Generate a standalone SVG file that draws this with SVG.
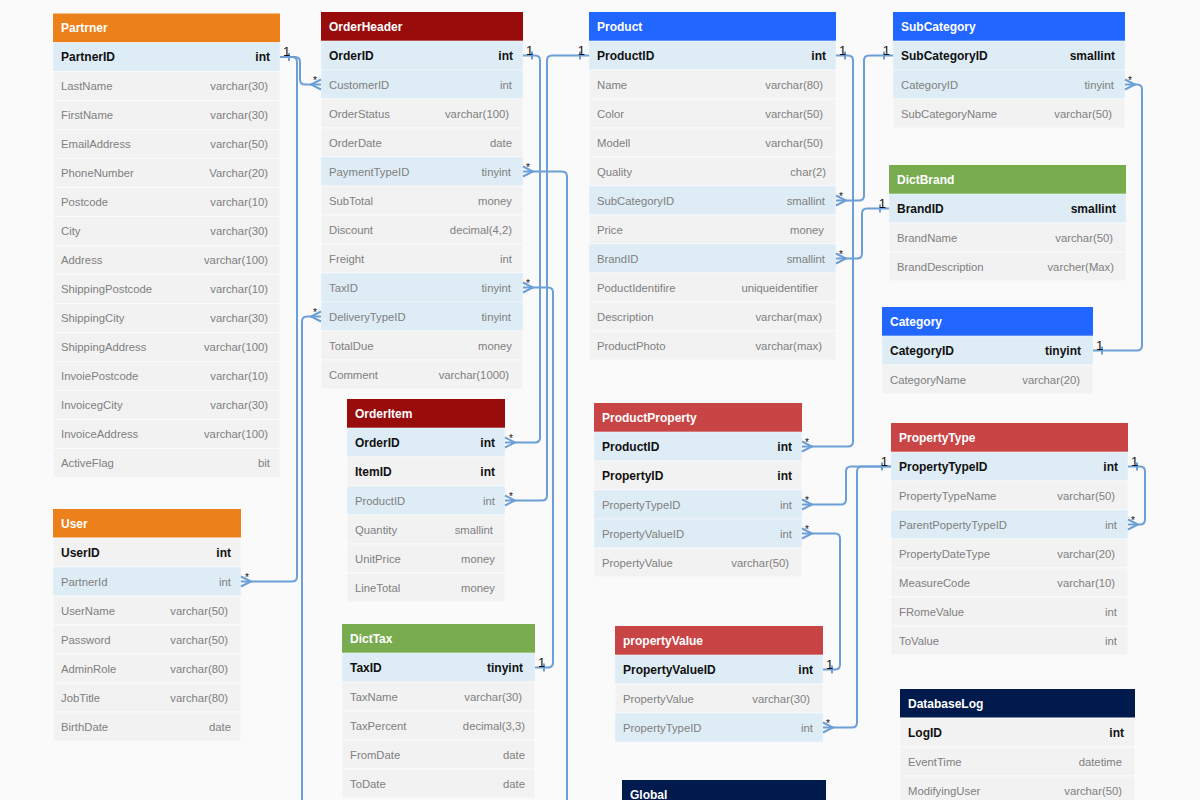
<svg xmlns="http://www.w3.org/2000/svg" width="1200" height="800" viewBox="0 0 1200 800">
<style>
.bg{fill:#fafafa}
.r{fill:#f2f2f2;stroke:#fafafa;stroke-width:1}
.h{fill:#deecf5;stroke:#f6f9fb;stroke-width:0.6}
.t{font-family:"Liberation Sans",Arial,sans-serif;font-size:11.3px;fill:#808080}
.b{font-weight:bold;font-size:12px;fill:#111}
.e{text-anchor:end}
.ht{font-family:"Liberation Sans",Arial,sans-serif;font-size:12px;font-weight:bold;fill:#fff}
.or{fill:#ec801b}
.dr{fill:#990c0c}
.bl{fill:#2166ff}
.gr{fill:#78ac4f}
.rd{fill:#c94444}
.nv{fill:#001a4d}
.c{fill:none;stroke:#6b9fd6;stroke-width:2}
.lab{font-family:"Liberation Sans",Arial,sans-serif;font-size:13px;fill:#111}
.st{font-family:"Liberation Sans",Arial,sans-serif;font-size:10px;fill:#111}
</style>
<rect class="bg" x="0" y="0" width="1200" height="800"/>

<g id="Partner">
<rect class="or" x="53" y="13.5" width="227" height="29"/>
<text class="ht" x="61" y="32">Partrner</text>
<rect class="h" x="53" y="42.5" width="227" height="29"/>
<rect class="r" x="53" y="71.5" width="227" height="29"/>
<rect class="r" x="53" y="100.5" width="227" height="29"/>
<rect class="r" x="53" y="129.5" width="227" height="29"/>
<rect class="r" x="53" y="158.5" width="227" height="29"/>
<rect class="r" x="53" y="187.5" width="227" height="29"/>
<rect class="r" x="53" y="216.5" width="227" height="29"/>
<rect class="r" x="53" y="245.5" width="227" height="29"/>
<rect class="r" x="53" y="274.5" width="227" height="29"/>
<rect class="r" x="53" y="303.5" width="227" height="29"/>
<rect class="r" x="53" y="332.5" width="227" height="29"/>
<rect class="r" x="53" y="361.5" width="227" height="29"/>
<rect class="r" x="53" y="390.5" width="227" height="29"/>
<rect class="r" x="53" y="419.5" width="227" height="29"/>
<rect class="r" x="53" y="448.5" width="227" height="29"/>
<text class="t b" x="61" y="61">PartnerID</text><text class="t b e" x="270" y="61">int</text>
<text class="t" x="61" y="90">LastName</text><text class="t e" x="268" y="90">varchar(30)</text>
<text class="t" x="61" y="119">FirstName</text><text class="t e" x="268" y="119">varchar(30)</text>
<text class="t" x="61" y="148">EmailAddress</text><text class="t e" x="268" y="148">varchar(50)</text>
<text class="t" x="61" y="177">PhoneNumber</text><text class="t e" x="268" y="177">Varchar(20)</text>
<text class="t" x="61" y="206">Postcode</text><text class="t e" x="268" y="206">varchar(10)</text>
<text class="t" x="61" y="235">City</text><text class="t e" x="268" y="235">varchar(30)</text>
<text class="t" x="61" y="264">Address</text><text class="t e" x="268" y="264">varchar(100)</text>
<text class="t" x="61" y="293">ShippingPostcode</text><text class="t e" x="268" y="293">varchar(10)</text>
<text class="t" x="61" y="322">ShippingCity</text><text class="t e" x="268" y="322">varchar(30)</text>
<text class="t" x="61" y="351">ShippingAddress</text><text class="t e" x="268" y="351">varchar(100)</text>
<text class="t" x="61" y="380">InvoiePostcode</text><text class="t e" x="268" y="380">varchar(10)</text>
<text class="t" x="61" y="409">InvoicegCity</text><text class="t e" x="268" y="409">varchar(30)</text>
<text class="t" x="61" y="438">InvoiceAddress</text><text class="t e" x="268" y="438">varchar(100)</text>
<text class="t" x="61" y="467">ActiveFlag</text><text class="t e" x="270" y="467">bit</text>
</g>

<g id="OrderHeader">
<rect class="dr" x="321" y="12" width="202" height="29"/>
<text class="ht" x="329" y="30.5">OrderHeader</text>
<rect class="h" x="321" y="41" width="202" height="29"/>
<rect class="h" x="321" y="70" width="202" height="29"/>
<rect class="r" x="321" y="99" width="202" height="29"/>
<rect class="r" x="321" y="128" width="202" height="29"/>
<rect class="h" x="321" y="157" width="202" height="29"/>
<rect class="r" x="321" y="186" width="202" height="29"/>
<rect class="r" x="321" y="215" width="202" height="29"/>
<rect class="r" x="321" y="244" width="202" height="29"/>
<rect class="h" x="321" y="273" width="202" height="29"/>
<rect class="h" x="321" y="302" width="202" height="29"/>
<rect class="r" x="321" y="331" width="202" height="29"/>
<rect class="r" x="321" y="360" width="202" height="29"/>
<text class="t b" x="329" y="59.5">OrderID</text><text class="t b e" x="513" y="59.5">int</text>
<text class="t" x="329" y="88.5">CustomerID</text><text class="t e" x="512" y="88.5">int</text>
<text class="t" x="329" y="117.5">OrderStatus</text><text class="t e" x="509" y="117.5">varchar(100)</text>
<text class="t" x="329" y="146.5">OrderDate</text><text class="t e" x="512" y="146.5">date</text>
<text class="t" x="329" y="175.5">PaymentTypeID</text><text class="t e" x="511" y="175.5">tinyint</text>
<text class="t" x="329" y="204.5">SubTotal</text><text class="t e" x="512" y="204.5">money</text>
<text class="t" x="329" y="233.5">Discount</text><text class="t e" x="512" y="233.5">decimal(4,2)</text>
<text class="t" x="329" y="262.5">Freight</text><text class="t e" x="512" y="262.5">int</text>
<text class="t" x="329" y="291.5">TaxID</text><text class="t e" x="511" y="291.5">tinyint</text>
<text class="t" x="329" y="320.5">DeliveryTypeID</text><text class="t e" x="511" y="320.5">tinyint</text>
<text class="t" x="329" y="349.5">TotalDue</text><text class="t e" x="512" y="349.5">money</text>
<text class="t" x="329" y="378.5">Comment</text><text class="t e" x="509" y="378.5">varchar(1000)</text>
</g>

<g id="Product">
<rect class="bl" x="589" y="12" width="247" height="29"/>
<text class="ht" x="597" y="30.5">Product</text>
<rect class="h" x="589" y="41" width="247" height="29"/>
<rect class="r" x="589" y="70" width="247" height="29"/>
<rect class="r" x="589" y="99" width="247" height="29"/>
<rect class="r" x="589" y="128" width="247" height="29"/>
<rect class="r" x="589" y="157" width="247" height="29"/>
<rect class="h" x="589" y="186" width="247" height="29"/>
<rect class="r" x="589" y="215" width="247" height="29"/>
<rect class="h" x="589" y="244" width="247" height="29"/>
<rect class="r" x="589" y="273" width="247" height="29"/>
<rect class="r" x="589" y="302" width="247" height="29"/>
<rect class="r" x="589" y="331" width="247" height="29"/>
<text class="t b" x="597" y="59.5">ProductID</text><text class="t b e" x="826" y="59.5">int</text>
<text class="t" x="597" y="88.5">Name</text><text class="t e" x="823" y="88.5">varchar(80)</text>
<text class="t" x="597" y="117.5">Color</text><text class="t e" x="823" y="117.5">varchar(50)</text>
<text class="t" x="597" y="146.5">Modell</text><text class="t e" x="823" y="146.5">varchar(50)</text>
<text class="t" x="597" y="175.5">Quality</text><text class="t e" x="826" y="175.5">char(2)</text>
<text class="t" x="597" y="204.5">SubCategoryID</text><text class="t e" x="825" y="204.5">smallint</text>
<text class="t" x="597" y="233.5">Price</text><text class="t e" x="824" y="233.5">money</text>
<text class="t" x="597" y="262.5">BrandID</text><text class="t e" x="825" y="262.5">smallint</text>
<text class="t" x="597" y="291.5">PoductIdentifire</text><text class="t e" x="818" y="291.5">uniqueidentifier</text>
<text class="t" x="597" y="320.5">Description</text><text class="t e" x="822" y="320.5">varchar(max)</text>
<text class="t" x="597" y="349.5">ProductPhoto</text><text class="t e" x="822" y="349.5">varchar(max)</text>
</g>

<g id="SubCategory">
<rect class="bl" x="893" y="12" width="232" height="29"/>
<text class="ht" x="901" y="30.5">SubCategory</text>
<rect class="h" x="893" y="41" width="232" height="29"/>
<rect class="h" x="893" y="70" width="232" height="29"/>
<rect class="r" x="893" y="99" width="232" height="29"/>
<text class="t b" x="901" y="59.5">SubCategoryID</text><text class="t b e" x="1115" y="59.5">smallint</text>
<text class="t" x="901" y="88.5">CategoryID</text><text class="t e" x="1114" y="88.5">tinyint</text>
<text class="t" x="901" y="117.5">SubCategoryName</text><text class="t e" x="1112" y="117.5">varchar(50)</text>
</g>

<g id="DictBrand">
<rect class="gr" x="889" y="165" width="237" height="29"/>
<text class="ht" x="897" y="183.5">DictBrand</text>
<rect class="h" x="889" y="194" width="237" height="29"/>
<rect class="r" x="889" y="223" width="237" height="29"/>
<rect class="r" x="889" y="252" width="237" height="29"/>
<text class="t b" x="897" y="212.5">BrandID</text><text class="t b e" x="1116" y="212.5">smallint</text>
<text class="t" x="897" y="241.5">BrandName</text><text class="t e" x="1113" y="241.5">varchar(50)</text>
<text class="t" x="897" y="270.5">BrandDescription</text><text class="t e" x="1114" y="270.5">varcher(Max)</text>
</g>

<g id="Category">
<rect class="bl" x="882" y="307" width="211" height="29"/>
<text class="ht" x="890" y="325.5">Category</text>
<rect class="h" x="882" y="336" width="211" height="29"/>
<rect class="r" x="882" y="365" width="211" height="29"/>
<text class="t b" x="890" y="354.5">CategoryID</text><text class="t b e" x="1081" y="354.5">tinyint</text>
<text class="t" x="890" y="383.5">CategoryName</text><text class="t e" x="1080" y="383.5">varchar(20)</text>
</g>

<g id="OrderItem">
<rect class="dr" x="347" y="399" width="158" height="29"/>
<text class="ht" x="355" y="417.5">OrderItem</text>
<rect class="h" x="347" y="428" width="158" height="29"/>
<rect class="r" x="347" y="457" width="158" height="29"/>
<rect class="h" x="347" y="486" width="158" height="29"/>
<rect class="r" x="347" y="515" width="158" height="29"/>
<rect class="r" x="347" y="544" width="158" height="29"/>
<rect class="r" x="347" y="573" width="158" height="29"/>
<text class="t b" x="355" y="446.5">OrderID</text><text class="t b e" x="495" y="446.5">int</text>
<text class="t b" x="355" y="475.5">ItemID</text><text class="t b e" x="495" y="475.5">int</text>
<text class="t" x="355" y="504.5">ProductID</text><text class="t e" x="495" y="504.5">int</text>
<text class="t" x="355" y="533.5">Quantity</text><text class="t e" x="493" y="533.5">smallint</text>
<text class="t" x="355" y="562.5">UnitPrice</text><text class="t e" x="495" y="562.5">money</text>
<text class="t" x="355" y="591.5">LineTotal</text><text class="t e" x="495" y="591.5">money</text>
</g>

<g id="DictTax">
<rect class="gr" x="342" y="624" width="193" height="29"/>
<text class="ht" x="350" y="642.5">DictTax</text>
<rect class="h" x="342" y="653" width="193" height="29"/>
<rect class="r" x="342" y="682" width="193" height="29"/>
<rect class="r" x="342" y="711" width="193" height="29"/>
<rect class="r" x="342" y="740" width="193" height="29"/>
<rect class="r" x="342" y="769" width="193" height="29"/>
<text class="t b" x="350" y="671.5">TaxID</text><text class="t b e" x="523" y="671.5">tinyint</text>
<text class="t" x="350" y="700.5">TaxName</text><text class="t e" x="522" y="700.5">varchar(30)</text>
<text class="t" x="350" y="729.5">TaxPercent</text><text class="t e" x="525" y="729.5">decimal(3,3)</text>
<text class="t" x="350" y="758.5">FromDate</text><text class="t e" x="525" y="758.5">date</text>
<text class="t" x="350" y="787.5">ToDate</text><text class="t e" x="525" y="787.5">date</text>
</g>

<g id="User">
<rect class="or" x="53" y="509" width="188" height="29"/>
<text class="ht" x="61" y="527.5">User</text>
<rect class="r" x="53" y="538" width="188" height="29"/>
<rect class="h" x="53" y="567" width="188" height="29"/>
<rect class="r" x="53" y="596" width="188" height="29"/>
<rect class="r" x="53" y="625" width="188" height="29"/>
<rect class="r" x="53" y="654" width="188" height="29"/>
<rect class="r" x="53" y="683" width="188" height="29"/>
<rect class="r" x="53" y="712" width="188" height="29"/>
<text class="t b" x="61" y="556.5">UserID</text><text class="t b e" x="231" y="556.5">int</text>
<text class="t" x="61" y="585.5">PartnerId</text><text class="t e" x="231" y="585.5">int</text>
<text class="t" x="61" y="614.5">UserName</text><text class="t e" x="228" y="614.5">varchar(50)</text>
<text class="t" x="61" y="643.5">Password</text><text class="t e" x="228" y="643.5">varchar(50)</text>
<text class="t" x="61" y="672.5">AdminRole</text><text class="t e" x="228" y="672.5">varchar(80)</text>
<text class="t" x="61" y="701.5">JobTitle</text><text class="t e" x="228" y="701.5">varchar(80)</text>
<text class="t" x="61" y="730.5">BirthDate</text><text class="t e" x="231" y="730.5">date</text>
</g>

<g id="ProductProperty">
<rect class="rd" x="594" y="403" width="208" height="29"/>
<text class="ht" x="602" y="421.5">ProductProperty</text>
<rect class="h" x="594" y="432" width="208" height="29"/>
<rect class="r" x="594" y="461" width="208" height="29"/>
<rect class="h" x="594" y="490" width="208" height="29"/>
<rect class="h" x="594" y="519" width="208" height="29"/>
<rect class="r" x="594" y="548" width="208" height="29"/>
<text class="t b" x="602" y="450.5">ProductID</text><text class="t b e" x="792" y="450.5">int</text>
<text class="t b" x="602" y="479.5">PropertyID</text><text class="t b e" x="792" y="479.5">int</text>
<text class="t" x="602" y="508.5">PropertyTypeID</text><text class="t e" x="792" y="508.5">int</text>
<text class="t" x="602" y="537.5">PropertyValueID</text><text class="t e" x="792" y="537.5">int</text>
<text class="t" x="602" y="566.5">PropertyValue</text><text class="t e" x="789" y="566.5">varchar(50)</text>
</g>

<g id="propertyValue">
<rect class="rd" x="615" y="626" width="208" height="29"/>
<text class="ht" x="623" y="644.5">propertyValue</text>
<rect class="h" x="615" y="655" width="208" height="29"/>
<rect class="r" x="615" y="684" width="208" height="29"/>
<rect class="h" x="615" y="713" width="208" height="29"/>
<text class="t b" x="623" y="673.5">PropertyValueID</text><text class="t b e" x="813" y="673.5">int</text>
<text class="t" x="623" y="702.5">PropertyValue</text><text class="t e" x="810" y="702.5">varchar(30)</text>
<text class="t" x="623" y="731.5">PropertyTypeID</text><text class="t e" x="813" y="731.5">int</text>
</g>

<g id="PropertyType">
<rect class="rd" x="891" y="423" width="237" height="29"/>
<text class="ht" x="899" y="441.5">PropertyType</text>
<rect class="h" x="891" y="452" width="237" height="29"/>
<rect class="r" x="891" y="481" width="237" height="29"/>
<rect class="h" x="891" y="510" width="237" height="29"/>
<rect class="r" x="891" y="539" width="237" height="29"/>
<rect class="r" x="891" y="568" width="237" height="29"/>
<rect class="r" x="891" y="597" width="237" height="29"/>
<rect class="r" x="891" y="626" width="237" height="29"/>
<text class="t b" x="899" y="470.5">PropertyTypeID</text><text class="t b e" x="1118" y="470.5">int</text>
<text class="t" x="899" y="499.5">PropertyTypeName</text><text class="t e" x="1115" y="499.5">varchar(50)</text>
<text class="t" x="899" y="528.5">ParentPopertyTypeID</text><text class="t e" x="1117" y="528.5">int</text>
<text class="t" x="899" y="557.5">PropertyDateType</text><text class="t e" x="1115" y="557.5">varchar(20)</text>
<text class="t" x="899" y="586.5">MeasureCode</text><text class="t e" x="1115" y="586.5">varchar(10)</text>
<text class="t" x="899" y="615.5">FRomeValue</text><text class="t e" x="1117" y="615.5">int</text>
<text class="t" x="899" y="644.5">ToValue</text><text class="t e" x="1117" y="644.5">int</text>
</g>

<g id="DatabaseLog">
<rect class="nv" x="900" y="689" width="235" height="29"/>
<text class="ht" x="908" y="707.5">DatabaseLog</text>
<rect class="r" x="900" y="718" width="235" height="29"/>
<rect class="r" x="900" y="747" width="235" height="29"/>
<rect class="r" x="900" y="776" width="235" height="29"/>
<text class="t b" x="908" y="736.5">LogID</text><text class="t b e" x="1124" y="736.5">int</text>
<text class="t" x="908" y="765.5">EventTime</text><text class="t e" x="1122" y="765.5">datetime</text>
<text class="t" x="908" y="794.5">ModifyingUser</text><text class="t e" x="1122" y="794.5">varchar(50)</text>
</g>

<g id="Global">
<rect class="nv" x="622" y="780" width="204" height="29"/>
<text class="ht" x="630" y="798.5">Global</text>
</g>

<g id="connectors">
<path class="c" d="M280,57 H295 Q300,57 300,62 V79.5 Q300,84.5 305,84.5 H321"/>
<path class="c" d="M280,57 H292 Q297,57 297,62 V576.5 Q297,581.5 292,581.5 H241"/>
<path class="c" d="M321,316.5 H307 Q302,316.5 302,321.5 V800"/>
<path class="c" d="M523,55.5 H535 Q540,55.5 540,60.5 V437.5 Q540,442.5 535,442.5 H505"/>
<path class="c" d="M589,55.5 H552 Q547,55.5 547,60.5 V495.5 Q547,500.5 542,500.5 H505"/>
<path class="c" d="M523,171.5 H562 Q567,171.5 567,176.5 V800"/>
<path class="c" d="M523,287.5 H548 Q553,287.5 553,292.5 V662.5 Q553,667.5 548,667.5 H535"/>
<path class="c" d="M836,55.5 H848 Q853,55.5 853,60.5 V441.5 Q853,446.5 848,446.5 H802"/>
<path class="c" d="M836,200.5 H859 Q864,200.5 864,195.5 V60.5 Q864,55.5 869,55.5 H893"/>
<path class="c" d="M836,258.5 H857 Q862,258.5 862,253.5 V213.5 Q862,208.5 867,208.5 H889"/>
<path class="c" d="M1125,84.5 H1137 Q1142,84.5 1142,89.5 V345.5 Q1142,350.5 1137,350.5 H1093"/>
<path class="c" d="M802,504.5 H841 Q846,504.5 846,499.5 V471.5 Q846,466.5 851,466.5 H891"/>
<path class="c" d="M823,727.5 H852 Q857,727.5 857,722.5 V471.5 Q857,466.5 862,466.5 H891"/>
<path class="c" d="M802,533.5 H835 Q840,533.5 840,538.5 V664.5 Q840,669.5 835,669.5 H823"/>
<path class="c" d="M1128,466.5 H1140 Q1145,466.5 1145,471.5 V519.5 Q1145,524.5 1140,524.5 H1128"/>
<!-- crow's feet -->
<path class="c" d="M321,79.5 L311,84.5 L321,89.5"/>
<path class="c" d="M241,576.5 L251,581.5 L241,586.5"/>
<path class="c" d="M321,311.5 L311,316.5 L321,321.5"/>
<path class="c" d="M505,437.5 L515,442.5 L505,447.5"/>
<path class="c" d="M505,495.5 L515,500.5 L505,505.5"/>
<path class="c" d="M523,166.5 L533,171.5 L523,176.5"/>
<path class="c" d="M523,282.5 L533,287.5 L523,292.5"/>
<path class="c" d="M802,441.5 L812,446.5 L802,451.5"/>
<path class="c" d="M836,195.5 L846,200.5 L836,205.5"/>
<path class="c" d="M836,253.5 L846,258.5 L836,263.5"/>
<path class="c" d="M1125,79.5 L1135,84.5 L1125,89.5"/>
<path class="c" d="M802,499.5 L812,504.5 L802,509.5"/>
<path class="c" d="M823,722.5 L833,727.5 L823,732.5"/>
<path class="c" d="M802,528.5 L812,533.5 L802,538.5"/>
<path class="c" d="M1128,519.5 L1138,524.5 L1128,529.5"/>
<!-- one ticks -->
<path class="c" d="M289,53 V61 M532,51.5 V59.5 M580,51.5 V59.5 M544,663.5 V671.5 M845,51.5 V59.5 M884,51.5 V59.5 M880,204.5 V212.5 M1102,346.5 V354.5 M882,462.5 V470.5 M832,665.5 V673.5 M1137,462.5 V470.5"/>
<!-- labels -->
<text class="lab" x="283" y="56">1</text>
<text class="lab" x="526" y="54.5">1</text>
<text class="lab" x="585" y="54.5" text-anchor="end">1</text>
<text class="lab" x="538" y="666.5">1</text>
<text class="lab" x="839" y="54.5">1</text>
<text class="lab" x="890" y="54.5" text-anchor="end">1</text>
<text class="lab" x="886" y="207.5" text-anchor="end">1</text>
<text class="lab" x="1096" y="349.5">1</text>
<text class="lab" x="888" y="465.5" text-anchor="end">1</text>
<text class="lab" x="826" y="668.5">1</text>
<text class="lab" x="1131" y="465.5">1</text>
<text class="st" x="317" y="83.5" text-anchor="end">*</text>
<text class="st" x="245" y="580.5">*</text>
<text class="st" x="317" y="315.5" text-anchor="end">*</text>
<text class="st" x="509" y="441.5">*</text>
<text class="st" x="509" y="499.5">*</text>
<text class="st" x="526" y="170.5">*</text>
<text class="st" x="526" y="286.5">*</text>
<text class="st" x="805" y="445.5">*</text>
<text class="st" x="839" y="199.5">*</text>
<text class="st" x="839" y="257.5">*</text>
<text class="st" x="1128" y="83.5">*</text>
<text class="st" x="805" y="503.5">*</text>
<text class="st" x="826" y="726.5">*</text>
<text class="st" x="805" y="532.5">*</text>
<text class="st" x="1131" y="523.5">*</text>
</g>
</svg>
